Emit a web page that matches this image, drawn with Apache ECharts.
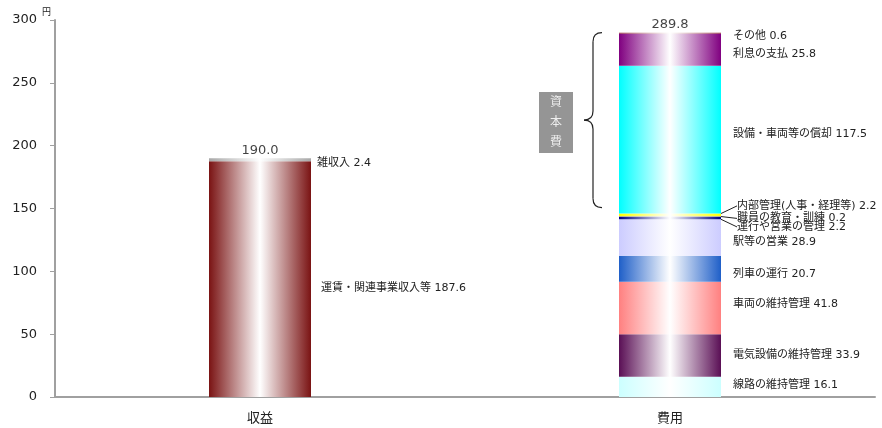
<!DOCTYPE html>
<html>
<head>
<meta charset="utf-8">
<script src="https://cdn.jsdelivr.net/npm/echarts@6/dist/echarts.min.js"></script>
<style>
html,body{margin:0;padding:0;background:#fff;}
#main{width:882px;height:428px;}
</style>
</head>
<body>
<div id="main"></div>
<script>
// ---- data ----
var categories = ['収益', '費用'];
var yTicks = [0, 50, 100, 150, 200, 250, 300];
var yUnit = '円';
var totals = [190.0, 289.8];

var revenueNames = ['運賃・関連事業収入等', '雑収入'];
var revenueValues = [187.6, 2.4];

var costNames = ['線路の維持管理', '電気設備の維持管理', '車両の維持管理', '列車の運行', '駅等の営業',
  '運行や営業の管理', '職員の教育・訓練', '内部管理(人事・経理等)', '設備・車両等の償却', '利息の支払', 'その他'];
var costValues = [16.1, 33.9, 41.8, 20.7, 28.9, 2.2, 0.2, 2.2, 117.5, 25.8, 0.6];

var capitalLabel = ['資', '本', '費'];

// ---- styles ----
var revenueColors = ['#7a1313', '#a8a8a8'];
var costColors = ['#ccffff', '#5a0f55', '#ff8080', '#1f5fc8', '#ccccff',
  '#000080', '#d0d0d0', '#ffff00', '#00ffff', '#800080', '#8b1a1a'];
var revenueDy = [9, 3];
var costDy = [-2, 0, -4, 6, 5, 9, 2, -9, -6, 4, 3];
var costDx = [0, 0, 0, 0, 0, 4, 4, 4, 0, 0, 0];
var costLeader = [false, false, false, false, false, true, true, true, false, false, false];

var FONT = '"DejaVu Sans", "Noto Sans CJK JP", sans-serif';

function grad(c) {
  return new echarts.graphic.LinearGradient(0, 0, 1, 0, [
    {offset: 0, color: c},
    {offset: 0.5, color: '#ffffff'},
    {offset: 1, color: c}
  ]);
}

var series = [];
revenueValues.forEach(function (v, i) {
  series.push({
    type: 'bar', name: revenueNames[i], stack: 'a', barWidth: 102,
    data: [v, '-'],
    itemStyle: {color: grad(revenueColors[i])},
    label: {
      show: true, position: 'right', distance: i === 0 ? 10 : 6,
      fontFamily: FONT, fontSize: 11, color: '#222',
      formatter: function (p) { return p.seriesName + ' ' + Number(p.value).toFixed(1); }
    },
    labelLayout: {dy: revenueDy[i]},
    emphasis: {disabled: true}
  });
});
costValues.forEach(function (v, i) {
  series.push({
    type: 'bar', name: costNames[i], stack: 'a', barWidth: 102,
    data: ['-', v],
    itemStyle: {color: grad(costColors[i])},
    label: {
      show: true, position: 'right', distance: 12,
      fontFamily: FONT, fontSize: 11, color: '#222',
      formatter: function (p) { return p.seriesName + ' ' + Number(p.value).toFixed(1); }
    },
    labelLayout: {dy: costDy[i], dx: costDx[i]},
    labelLine: {show: costLeader[i], length2: 0, lineStyle: {color: '#222', width: 1}},
    emphasis: {disabled: true}
  });
});
series.push({
  type: 'scatter', name: 'total', data: totals, symbolSize: 1,
  itemStyle: {color: 'rgba(0,0,0,0)'},
  label: {
    show: true, position: 'top', distance: 1,
    fontFamily: FONT, fontSize: 13, color: '#111',
    formatter: function (p) { return Number(p.value).toFixed(1); }
  },
  emphasis: {disabled: true},
  z: 5
});

var chart = echarts.init(document.getElementById('main'), null, {renderer: 'canvas'});
chart.setOption({
  animation: false,
  backgroundColor: '#fff',
  grid: {left: 55, right: 7, top: 20, bottom: 31, containLabel: false},
  xAxis: {
    type: 'category', data: categories, boundaryGap: true,
    axisLine: {lineStyle: {color: '#a0a0a0', width: 2}},
    axisTick: {show: false},
    axisLabel: {fontFamily: FONT, fontSize: 13, color: '#222', margin: 15}
  },
  yAxis: {
    type: 'value', min: yTicks[0], max: yTicks[yTicks.length - 1], interval: 50,
    axisLine: {show: true, lineStyle: {color: '#a0a0a0', width: 2}},
    axisTick: {show: true, length: 5, lineStyle: {color: '#a0a0a0', width: 1}},
    splitLine: {show: false},
    axisLabel: {fontFamily: FONT, fontSize: 13, color: '#222', margin: 18}
  },
  series: series
});

// ---- annotation: capital cost brace ----
var capStart = 0;
for (var k = 0; k < 8; k++) capStart += costValues[k];
var capEnd = capStart + costValues[8] + costValues[9] + costValues[10];
var pBottom = chart.convertToPixel({gridIndex: 0}, [1, capStart]);
var pTop = chart.convertToPixel({gridIndex: 0}, [1, capEnd]);
var pAxisTop = chart.convertToPixel({gridIndex: 0}, [0, yTicks[yTicks.length - 1]]);
var axisX = chart.convertToPixel({yAxisIndex: 0}, 0) !== undefined ? 55 : 55;
var barLeft = pBottom[0] - 51;
var bx = barLeft - 26;
var y0 = pTop[1], y1 = pBottom[1] - 6;
var ym = (y0 + y1) / 2;
var r = 9;
var bs = {fill: null, stroke: '#222', lineWidth: 1.2};
var boxW = 34, boxH = 61;
var boxX = bx - 54, boxY = ym - 28;
var graphics = [
  {type: 'bezierCurve', shape: {x1: bx + 9, y1: y0, x2: bx, y2: y0 + r, cpx1: bx, cpy1: y0}, style: bs},
  {type: 'line', shape: {x1: bx, y1: y0 + r, x2: bx, y2: ym - r}, style: bs},
  {type: 'bezierCurve', shape: {x1: bx, y1: ym - r, x2: bx - 9, y2: ym, cpx1: bx, cpy1: ym}, style: bs},
  {type: 'bezierCurve', shape: {x1: bx - 9, y1: ym, x2: bx, y2: ym + r, cpx1: bx, cpy1: ym}, style: bs},
  {type: 'line', shape: {x1: bx, y1: ym + r, x2: bx, y2: y1 - r}, style: bs},
  {type: 'bezierCurve', shape: {x1: bx, y1: y1 - r, x2: bx + 9, y2: y1, cpx1: bx, cpy1: y1}, style: bs},
  {type: 'rect', shape: {x: boxX, y: boxY, width: boxW, height: boxH}, style: {fill: '#959595'}},
  {type: 'text', x: axisX - 4, y: pAxisTop[1] - 8,
    style: {text: yUnit, fill: '#222', font: '9px "Noto Sans CJK JP", sans-serif', align: 'right', verticalAlign: 'middle'}}
];
capitalLabel.forEach(function (ch, i) {
  graphics.push({
    type: 'text', x: boxX + boxW / 2, y: boxY + 9 + i * 20,
    style: {text: ch, fill: '#eeeeee', font: '12px "Noto Sans CJK JP", sans-serif', align: 'center', verticalAlign: 'middle'}
  });
});
chart.setOption({graphic: graphics});
</script>
</body>
</html>
